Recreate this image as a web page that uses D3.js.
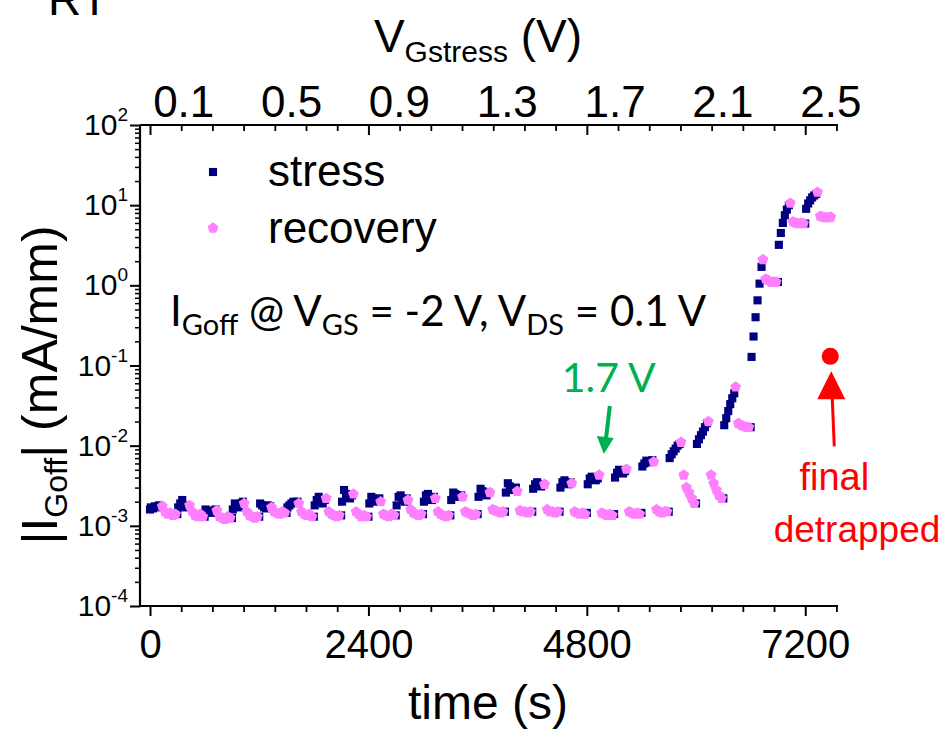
<!DOCTYPE html>
<html><head><meta charset="utf-8">
<script src="https://cdn.jsdelivr.net/npm/d3@7"></script>
<style>body{margin:0;background:#fff} svg{display:block}</style>
</head><body>
<svg id="chart" width="946" height="733"></svg>
<script>
// ---------------- data ----------------
const stepVoltage = [0.1,0.2,0.3,0.4,0.5,0.6,0.7,0.8,0.9,1.0,1.1,1.2,1.3,1.4,1.5,1.6,1.7,1.8,1.9,2.0,2.1,2.2,2.3,2.4,2.5];
const stepStart = [0,300,600,900,1200,1500,1800,2100,2400,2700,3000,3300,3600,3900,4200,4500,4800,5100,5400,5700,6000,6300,6600,6900,7200];
const stressOffset = [0,10,32,54,76,98,120];
const recoveryOffset = [135,165,194,223,252,280];
const stressCurrent = [
  [1.6e-3,1.7e-3,1.65e-3,1.75e-3,1.7e-3,1.8e-3,1.75e-3],
  [1.4e-3,1.7e-3,1.9e-3,2.1e-3,1.8e-3,1.7e-3,1.75e-3],
  [1.3e-3,1.6e-3,1.5e-3,1.55e-3,1.45e-3,1.5e-3,1.6e-3],
  [1.25e-3,1.6e-3,1.9e-3,1.8e-3,1.7e-3,1.9e-3,2.0e-3],
  [1.3e-3,1.9e-3,1.8e-3,1.7e-3,1.65e-3,1.8e-3,1.75e-3],
  [1.45e-3,1.7e-3,1.8e-3,1.9e-3,2.0e-3,1.95e-3,2.0e-3],
  [1.3e-3,1.8e-3,2.1e-3,2.3e-3,2.0e-3,1.9e-3,2.1e-3],
  [1.35e-3,2.0e-3,2.8e-3,2.5e-3,2.3e-3,2.2e-3,2.4e-3],
  [1.3e-3,1.9e-3,2.3e-3,2.2e-3,2.0e-3,2.1e-3,2.2e-3],
  [1.35e-3,1.8e-3,2.3e-3,2.4e-3,2.1e-3,2.0e-3,2.2e-3],
  [1.4e-3,2.0e-3,2.4e-3,2.5e-3,2.2e-3,2.1e-3,2.3e-3],
  [1.35e-3,2.1e-3,2.6e-3,2.5e-3,2.3e-3,2.4e-3,2.4e-3],
  [1.4e-3,2.3e-3,2.9e-3,2.7e-3,2.5e-3,2.4e-3,2.6e-3],
  [1.5e-3,2.6e-3,3.4e-3,3.1e-3,2.8e-3,2.9e-3,3.0e-3],
  [1.5e-3,2.9e-3,3.3e-3,3.5e-3,3.2e-3,3.1e-3,3.3e-3],
  [1.5e-3,3.0e-3,3.5e-3,3.7e-3,3.4e-3,3.3e-3,3.5e-3],
  [1.45e-3,3.3e-3,3.9e-3,4.1e-3,3.8e-3,3.7e-3,3.9e-3],
  [1.4e-3,4.0e-3,4.6e-3,5.0e-3,4.7e-3,4.5e-3,4.8e-3],
  [1.45e-3,5.5e-3,6.0e-3,6.5e-3,6.2e-3,6.4e-3,6.6e-3],
  [1.5e-3,7.0e-3,7.8e-3,8.5e-3,9.2e-3,1.0e-2,1.05e-2],
  [1.9e-3,1.05e-2,1.2e-2,1.35e-2,1.5e-2,1.7e-2,1.9e-2],
  [2.2e-3,1.8e-2,2.2e-2,2.7e-2,3.3e-2,3.9e-2,4.5e-2],
  [1.7e-2,0.128,0.23,0.4,0.65,1.05,1.7],
  [1.1,3.2,4.5,6.0,7.5,8.8,10.0],
  [5.9,9.0,10.5,11.5,12.5,13.2,13.8]
];
const recoveryCurrent = [
  [1.75e-3,1.5e-3,1.4e-3,1.45e-3,1.35e-3,1.4e-3],
  [1.8e-3,1.5e-3,1.35e-3,1.3e-3,1.4e-3,1.3e-3],
  [1.55e-3,1.3e-3,1.25e-3,1.2e-3,1.3e-3,1.25e-3],
  [1.9e-3,1.5e-3,1.35e-3,1.3e-3,1.25e-3,1.3e-3],
  [1.7e-3,1.5e-3,1.45e-3,1.4e-3,1.5e-3,1.45e-3],
  [1.9e-3,1.5e-3,1.4e-3,1.35e-3,1.4e-3,1.3e-3],
  [2.2e-3,1.5e-3,1.4e-3,1.35e-3,1.3e-3,1.35e-3],
  [2.5e-3,1.5e-3,1.4e-3,1.3e-3,1.35e-3,1.3e-3],
  [2.0e-3,1.4e-3,1.35e-3,1.3e-3,1.4e-3,1.35e-3],
  [2.1e-3,1.6e-3,1.45e-3,1.4e-3,1.35e-3,1.4e-3],
  [2.2e-3,1.5e-3,1.4e-3,1.35e-3,1.3e-3,1.35e-3],
  [2.3e-3,1.5e-3,1.45e-3,1.4e-3,1.35e-3,1.4e-3],
  [2.6e-3,1.6e-3,1.55e-3,1.5e-3,1.45e-3,1.5e-3],
  [2.7e-3,1.55e-3,1.5e-3,1.5e-3,1.45e-3,1.5e-3],
  [3.3e-3,1.6e-3,1.5e-3,1.5e-3,1.45e-3,1.5e-3],
  [3.4e-3,1.5e-3,1.45e-3,1.4e-3,1.45e-3,1.4e-3],
  [4.3e-3,1.45e-3,1.4e-3,1.35e-3,1.4e-3,1.35e-3],
  [5.1e-3,1.5e-3,1.45e-3,1.4e-3,1.45e-3,1.4e-3],
  [6.3e-3,1.6e-3,1.5e-3,1.45e-3,1.5e-3,1.5e-3],
  [1.1e-2,4.3e-3,3.0e-3,2.6e-3,2.2e-3,1.9e-3],
  [2.0e-2,4.3e-3,3.4e-3,2.8e-3,2.4e-3,2.2e-3],
  [5.4e-2,1.9e-2,1.8e-2,1.75e-2,1.7e-2,1.7e-2],
  [2.1,1.2,1.15,1.1,1.1,1.1],
  [10.6,6.2,6.0,5.9,6.0,5.9],
  [14.5,7.3,7.1,7.0,7.0,7.1]
];
const detrappedTime = [7475];
const detrappedCurrent = [0.13];
const xTickValues = [0,2400,4800,7200];
const xMinorPerMajor = 6;
const topTickLabels = [0.1,0.5,0.9,1.3,1.7,2.1,2.5];
const topLabelTimes = [365,7475];   // time positions of first/last voltage label
const yDecades = [-4,-3,-2,-1,0,1,2];
const arrowVoltage = 1.7;

// ---------------- layout ----------------
const svg = d3.select("#chart");
const L = 140, R = 838, T = 125, B = 606;
const x = d3.scaleLinear().domain([-110, 7560]).range([L, R]);
const y = d3.scaleLog().domain([1e-4, 1e2]).range([B, T]);
const vScale = d3.scaleLinear().domain([topTickLabels[0], topTickLabels[topTickLabels.length-1]])
  .range([x(topLabelTimes[0]), x(topLabelTimes[1])]);

const ARIAL = "'Liberation Sans', Arial, sans-serif";
const CAL = "Lato, 'Open Sans', sans-serif";

// ---------------- points ----------------
const stressPts = [], recPts = [];
stepStart.forEach((t0, k) => {
  stressOffset.forEach((o, i) => stressPts.push({t: t0 + o, v: stressCurrent[k][i]}));
  recoveryOffset.forEach((o, i) => recPts.push({t: t0 + o, v: recoveryCurrent[k][i]}));
});

const pentagon = {
  draw(ctx, size) {
    const r = Math.sqrt(size / (2.5 * Math.sin(2 * Math.PI / 5)));
    for (let i = 0; i < 5; i++) {
      const a = -Math.PI / 2 + i * 2 * Math.PI / 5;
      const px = r * Math.cos(a), py = r * Math.sin(a);
      if (i === 0) ctx.moveTo(px, py); else ctx.lineTo(px, py);
    }
    ctx.closePath();
  }
};
const NAVY = "#000080", PINK = "#FF80FF";
const sqSym = d3.symbol(d3.symbolSquare, 66);
const pentSym = d3.symbol(pentagon, 78);

svg.append("g").selectAll("path").data(stressPts).join("path")
  .attr("d", sqSym).attr("transform", d => `translate(${x(d.t)},${y(d.v)})`)
  .attr("fill", NAVY);
svg.append("g").selectAll("path").data(recPts).join("path")
  .attr("d", pentSym).attr("transform", d => `translate(${x(d.t)},${y(d.v)})`)
  .attr("fill", PINK);

// ---------------- axes ----------------
const majorStep = xTickValues[1] - xTickValues[0];
const xMinor = [];
for (let t = xTickValues[0]; t <= 7560; t += majorStep / (xMinorPerMajor + 1)) {
  if (!xTickValues.some(m => Math.abs(m - t) < 1e-6)) xMinor.push(t);
}
// bottom
const bottomAxis = d3.axisBottom(x).tickValues(xTickValues).tickSize(10).tickPadding(14).tickFormat(d3.format("d"));
const gb = svg.append("g").attr("transform", `translate(0,${B})`).call(bottomAxis);
gb.select(".domain").remove();
gb.selectAll(".tick line").attr("stroke-width", 2);
gb.selectAll(".tick text").attr("font-family", ARIAL).attr("font-size", 40).attr("fill", "#000");
const gbm = svg.append("g").attr("transform", `translate(0,${B})`)
  .call(d3.axisBottom(x).tickValues(xMinor).tickSize(6).tickFormat(""));
gbm.select(".domain").remove();
gbm.selectAll(".tick line").attr("stroke-width", 1.8);
// top (ticks inward)
const gt = svg.append("g").attr("transform", `translate(0,${T})`)
  .call(d3.axisBottom(x).tickValues(xTickValues).tickSize(10).tickFormat(""));
gt.select(".domain").remove();
gt.selectAll(".tick line").attr("stroke-width", 2);
const gtm = svg.append("g").attr("transform", `translate(0,${T})`)
  .call(d3.axisBottom(x).tickValues(xMinor).tickSize(6).tickFormat(""));
gtm.select(".domain").remove();
gtm.selectAll(".tick line").attr("stroke-width", 1.8);
// top voltage labels
const gv = svg.append("g").attr("transform", `translate(0,${T})`)
  .call(d3.axisTop(vScale).tickValues(topTickLabels).tickSize(0).tickPadding(8).tickFormat(d3.format(".1f")));
gv.select(".domain").remove();
gv.selectAll(".tick text").attr("font-family", ARIAL).attr("font-size", 44).attr("fill", "#000");
// left
const majorY = yDecades.map(e => Math.pow(10, e));
const minorY = [];
yDecades.slice(0, -1).forEach(e => { for (let m = 2; m <= 9; m++) minorY.push(m * Math.pow(10, e)); });
const gl = svg.append("g").attr("transform", `translate(${L},0)`)
  .call(d3.axisLeft(y).tickValues(majorY).tickSize(10).tickFormat(""));
gl.select(".domain").remove();
gl.selectAll(".tick line").attr("stroke-width", 2);
const glm = svg.append("g").attr("transform", `translate(${L},0)`)
  .call(d3.axisLeft(y).tickValues(minorY).tickSize(5).tickFormat(""));
glm.select(".domain").remove();
glm.selectAll(".tick line").attr("stroke-width", 1.5);
// y tick labels 10^n
const yl = svg.append("g").attr("font-family", ARIAL).attr("fill", "#000");
yDecades.forEach(e => {
  const tx = yl.append("text").attr("x", 128).attr("y", y(Math.pow(10, e)) + 10).attr("text-anchor", "end");
  tx.append("tspan").attr("font-size", 30).text("10");
  tx.append("tspan").attr("font-size", 19).attr("dy", -14).text(String(e));
});
// frame lines
svg.append("line").attr("x1", L).attr("x2", L).attr("y1", T).attr("y2", B).attr("stroke", "#000").attr("stroke-width", 2.2);
svg.append("line").attr("x1", L).attr("x2", R).attr("y1", B).attr("y2", B).attr("stroke", "#000").attr("stroke-width", 2.2);
svg.append("line").attr("x1", L).attr("x2", R).attr("y1", T).attr("y2", T).attr("stroke", "#000").attr("stroke-width", 2.2);

// ---------------- titles ----------------
svg.append("text").attr("x", 488).attr("y", 719).attr("text-anchor", "middle")
  .attr("font-family", ARIAL).attr("font-size", 48).text("time (s)");
const tt = svg.append("text").attr("x", 478).attr("y", 52).attr("text-anchor", "middle")
  .attr("font-family", ARIAL).attr("font-size", 46);
tt.append("tspan").text("V");
tt.append("tspan").attr("font-size", 30).attr("dy", 10).text("Gstress");
tt.append("tspan").attr("dy", -10).text(" (V)");
const yt = svg.append("text").attr("transform", "translate(57,385) rotate(-90)").attr("text-anchor", "middle")
  .attr("font-family", ARIAL).attr("font-size", 50);
yt.append("tspan").text("|I");
yt.append("tspan").attr("font-size", 32).attr("dy", 10).text("Goff");
yt.append("tspan").attr("dy", -10).text("| (mA/mm)");
svg.append("text").attr("x", 48).attr("y", 15).attr("font-family", ARIAL).attr("font-size", 46).text("RT");

// ---------------- legend ----------------
svg.append("path").attr("d", sqSym).attr("transform", "translate(213,172)").attr("fill", NAVY);
svg.append("path").attr("d", pentSym).attr("transform", "translate(213,228)").attr("fill", PINK);
svg.append("text").attr("x", 268).attr("y", 186).attr("font-family", ARIAL).attr("font-size", 44).text("stress");
svg.append("text").attr("x", 268).attr("y", 243).attr("font-family", ARIAL).attr("font-size", 44).text("recovery");

// condition annotation
const an = svg.append("text").attr("x", 170).attr("y", 326).attr("font-family", CAL).attr("font-size", 42);
an.append("tspan").text("I");
an.append("tspan").attr("font-size", 29).attr("dy", 9).text("Goff");
an.append("tspan").attr("dy", -9).text(" @ V");
an.append("tspan").attr("font-size", 29).attr("dy", 9).text("GS");
an.append("tspan").attr("dy", -9).text(" = -2 V, V");
an.append("tspan").attr("font-size", 29).attr("dy", 9).text("DS");
an.append("tspan").attr("dy", -9).text(" = 0.1 V");

// green 1.7 V arrow
const GREEN = "#00B050";
const gx = x(stepStart[stepVoltage.indexOf(arrowVoltage)]) + 22;
svg.append("text").attr("x", gx).attr("y", 392).attr("text-anchor", "middle")
  .attr("font-family", CAL).attr("font-size", 41).attr("fill", GREEN).text("1.7 V");
svg.append("line").attr("x1", gx + 1).attr("y1", 406).attr("x2", gx - 3).attr("y2", 440)
  .attr("stroke", GREEN).attr("stroke-width", 4);
svg.append("path").attr("d", `M${gx - 12},${436} L${gx + 5},${438} L${gx - 5},${454} Z`).attr("fill", GREEN);

// final detrapped
const RED = "#FF0000";
const fx = x(detrappedTime[0]), fy = y(detrappedCurrent[0]);
svg.append("circle").attr("cx", fx).attr("cy", fy).attr("r", 8.5).attr("fill", RED);
svg.append("path").attr("d", `M${fx + 1},${fy + 15} L${fx + 15},${fy + 43} L${fx - 13},${fy + 43} Z`).attr("fill", RED);
svg.append("line").attr("x1", fx + 2).attr("y1", fy + 42).attr("x2", fx + 4).attr("y2", fy + 90)
  .attr("stroke", RED).attr("stroke-width", 3);
svg.append("text").attr("x", fx + 4).attr("y", 490).attr("text-anchor", "middle")
  .attr("font-family", ARIAL).attr("font-size", 38).attr("fill", RED).text("final");
svg.append("text").attr("x", 857).attr("y", 542).attr("text-anchor", "middle")
  .attr("font-family", ARIAL).attr("font-size", 37).attr("fill", RED).text("detrapped");
</script>
</body></html>
